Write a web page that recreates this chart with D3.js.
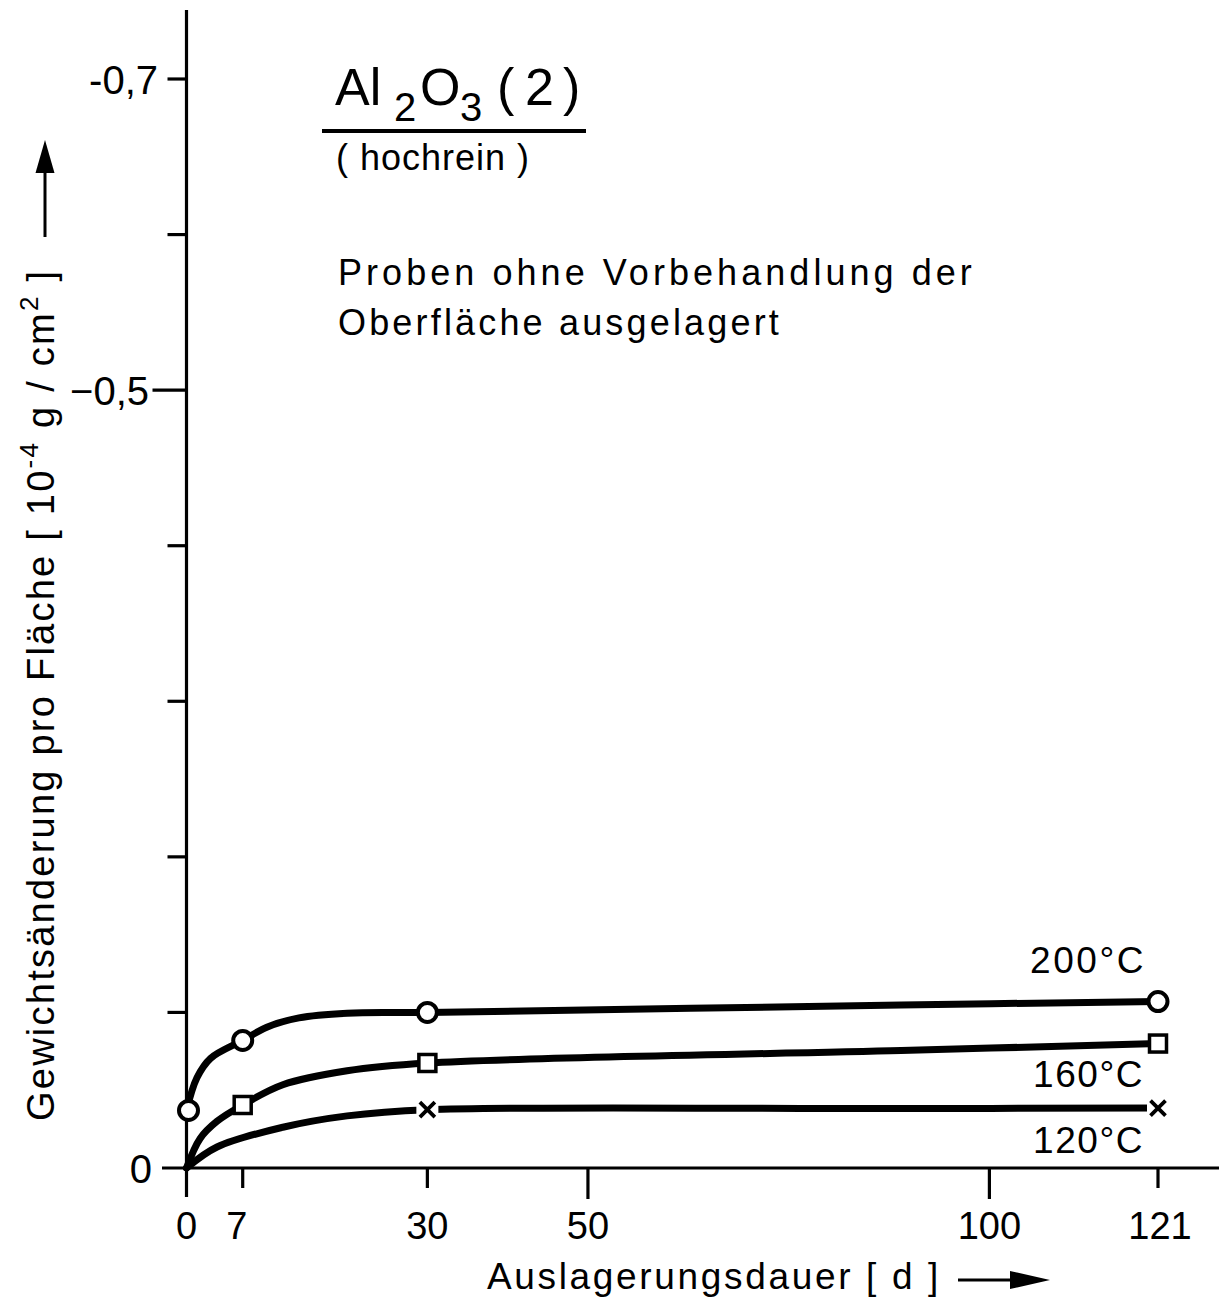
<!DOCTYPE html>
<html>
<head>
<meta charset="utf-8">
<script src="https://cdn.jsdelivr.net/npm/d3@7"></script>
<style>
  html, body { margin: 0; padding: 0; background: #fff; }
  svg { display: block; }
  text { font-family: "Liberation Sans", "DejaVu Sans", sans-serif; fill: #000; }
</style>
</head>
<body>
<svg id="chart" width="1219" height="1300"></svg>
<script>
// ---------- data ----------
const xTickValues = [0, 7, 30, 50, 100, 121];
const xTickLabels = ["0", "7", "30", "50", "100", "121"];
const xMajorTicks = [0, 50, 100];
const yTickValues = [0, -0.1, -0.2, -0.3, -0.4, -0.5, -0.6, -0.7];
const yLabelValues = [0, -0.5, -0.7];
const yLabelTexts = ["0", "\u22120,5", "-0,7"];
const yMajorTicks = [0, -0.5];

// measured points
const days200 = [0, 7, 30, 121];
const vals200 = [-0.037, -0.082, -0.100, -0.107];
const days160 = [7, 30, 121];
const vals160 = [-0.0405, -0.0675, -0.080];
const days120 = [30, 121];
const vals120 = [-0.0375, -0.0385];

// drawn (fitted) curves
const curveDays200 = [0, 1.3, 3, 7, 10, 14, 20, 30, 89, 121];
const curveVals200 = [-0.037, -0.058, -0.0705, -0.082, -0.0905, -0.0965, -0.0995, -0.100, -0.1048, -0.107];
const curveDays160 = [0, 1.7, 3.8, 7, 12, 20, 30, 89, 121];
const curveVals160 = [0, -0.019, -0.030, -0.0405, -0.0535, -0.0625, -0.0675, -0.0755, -0.080];
const curveDays120 = [0, 3.8, 12, 20, 30, 89, 121];
const curveVals120 = [0, -0.0135, -0.0262, -0.0335, -0.0375, -0.0382, -0.0385];

const seriesLabels = ["200\u00B0C", "160\u00B0C", "120\u00B0C"];

// ---------- drawing ----------
const svg = d3.select("#chart");
const x = d3.scaleLinear().domain([0, 121]).range([186.5, 1158]);
const y = d3.scaleLinear().domain([0, -0.7]).range([1168, 79]);
const x0 = x(0), y0 = y(0);

function fit(sel, target) {
  const node = sel.node();
  const w = node.getBBox().width;
  const n = node.textContent.length;
  sel.attr("letter-spacing", ((target - w) / n).toFixed(2));
}

// axes
svg.append("line").attr("x1", x0).attr("x2", x0).attr("y1", 10).attr("y2", y0 + 29)
  .attr("stroke", "#000").attr("stroke-width", 3.2);
svg.append("line").attr("x1", 162).attr("x2", 1219).attr("y1", y0).attr("y2", y0)
  .attr("stroke", "#000").attr("stroke-width", 3.2);

// y ticks
svg.selectAll(".ytick").data(yTickValues.filter(v => v !== 0)).join("line")
  .attr("class", "ytick")
  .attr("x1", d => yMajorTicks.includes(d) ? x0 - 34 : x0 - 19).attr("x2", x0)
  .attr("y1", d => y(d)).attr("y2", d => y(d))
  .attr("stroke", "#000").attr("stroke-width", 3.2);

// x ticks
svg.selectAll(".xtick").data(xTickValues.filter(v => v !== 0)).join("line")
  .attr("class", "xtick")
  .attr("x1", d => x(d)).attr("x2", d => x(d))
  .attr("y1", y0).attr("y2", d => xMajorTicks.includes(d) ? y0 + 31 : y0 + 20)
  .attr("stroke", "#000").attr("stroke-width", 3.2);

// y tick labels
svg.selectAll(".ylab").data(yLabelValues).join("text")
  .attr("class", "ylab")
  .attr("x", d => d === 0 ? 152 : (d === -0.5 ? 149 : 158))
  .attr("y", d => y(d) + 15)
  .attr("text-anchor", "end")
  .attr("font-size", 40)
  .text((d, i) => yLabelTexts[i]);

// x tick labels
svg.selectAll(".xlab").data(xTickValues).join("text")
  .attr("class", "xlab")
  .attr("x", d => x(d) - (d === 7 ? 6 : 0) + (d === 121 ? 2 : 0))
  .attr("y", 1239)
  .attr("text-anchor", "middle")
  .attr("font-size", 38)
  .text((d, i) => xTickLabels[i]);

// curves
const line = d3.line().x(d => x(d[0])).y(d => y(d[1])).curve(d3.curveCatmullRom.alpha(0.5));
const curves = [
  d3.zip(curveDays200, curveVals200),
  d3.zip(curveDays160, curveVals160),
  d3.zip(curveDays120, curveVals120)
];
svg.selectAll(".curve").data(curves).join("path")
  .attr("class", "curve")
  .attr("d", line)
  .attr("fill", "none").attr("stroke", "#000").attr("stroke-width", 7)
  .attr("stroke-linecap", "round");

// markers: circles (200 °C)
svg.selectAll(".m200").data(d3.zip(days200, vals200)).join("circle")
  .attr("class", "m200")
  .attr("cx", d => x(d[0]) + (d[0] === 0 ? 2 : 0)).attr("cy", d => y(d[1]))
  .attr("r", 9.5)
  .attr("fill", "#fff").attr("stroke", "#000").attr("stroke-width", 4);

// squares (160 °C)
svg.selectAll(".m160").data(d3.zip(days160, vals160)).join("rect")
  .attr("class", "m160")
  .attr("x", d => x(d[0]) - 8.5).attr("y", d => y(d[1]) - 8.5)
  .attr("width", 17).attr("height", 17)
  .attr("fill", "#fff").attr("stroke", "#000").attr("stroke-width", 3.5);

// crosses (120 °C)
const cross = svg.selectAll(".m120").data(d3.zip(days120, vals120)).join("g")
  .attr("class", "m120")
  .attr("transform", d => `translate(${x(d[0])},${y(d[1])})`);
cross.append("rect").attr("x", -11).attr("y", -10).attr("width", 22).attr("height", 20)
  .attr("fill", "#fff");
cross.append("path").attr("d", "M-7.5,-7.5L7.5,7.5M-7.5,7.5L7.5,-7.5")
  .attr("stroke", "#000").attr("stroke-width", 3.8).attr("fill", "none");

// series labels
const labPos = [[1030, 973], [1033, 1087], [1033, 1153]];
seriesLabels.forEach((t, i) => {
  const s = svg.append("text").attr("x", labPos[i][0]).attr("y", labPos[i][1])
    .attr("font-size", 37).text(t);
  fit(s, i === 0 ? 116 : 111);
});

// title
const title = svg.append("text").attr("y", 105).attr("font-size", 52);
title.append("tspan").attr("x", 335).text("Al");
title.append("tspan").attr("x", 394).attr("y", 121).attr("font-size", 40).text("2");
title.append("tspan").attr("x", 420).attr("y", 105).text("O");
title.append("tspan").attr("x", 460).attr("y", 121).attr("font-size", 40).text("3");
title.append("tspan").attr("x", 497).attr("y", 105).text("(");
title.append("tspan").attr("x", 525).attr("y", 105).text("2");
title.append("tspan").attr("x", 563).attr("y", 105).text(")");
svg.append("line").attr("x1", 322).attr("x2", 586).attr("y1", 131).attr("y2", 131)
  .attr("stroke", "#000").attr("stroke-width", 4);
const sub = svg.append("text").attr("x", 336).attr("y", 170).attr("font-size", 36).text("( hochrein )");
fit(sub, 194);

// note
const n1 = svg.append("text").attr("x", 338).attr("y", 285).attr("font-size", 36)
  .text("Proben ohne Vorbehandlung der");
fit(n1, 638);
const n2 = svg.append("text").attr("x", 338).attr("y", 335).attr("font-size", 36)
  .text("Oberfl\u00E4che ausgelagert");
fit(n2, 444);

// x axis title + arrow
const xt = svg.append("text").attr("x", 487).attr("y", 1289).attr("font-size", 37)
  .text("Auslagerungsdauer [ d ]");
fit(xt, 454);
svg.append("line").attr("x1", 958).attr("x2", 1015).attr("y1", 1280).attr("y2", 1280)
  .attr("stroke", "#000").attr("stroke-width", 3);
svg.append("path").attr("d", "M1010,1271L1050,1280L1010,1289Z").attr("fill", "#000");

// y axis title + arrow
const yt = svg.append("text")
  .attr("transform", "translate(54,1121) rotate(-90)")
  .attr("font-size", 38);
yt.append("tspan").text("Gewichts\u00E4nderung pro Fl\u00E4che [ 10");
yt.append("tspan").attr("dy", -16).attr("font-size", 26).text("-4");
yt.append("tspan").attr("dy", 16).text(" g / cm");
yt.append("tspan").attr("dy", -16).attr("font-size", 26).text("2");
yt.append("tspan").attr("dy", 16).text(" ]");
fit(yt, 852);
svg.append("line").attr("x1", 45).attr("x2", 45).attr("y1", 237).attr("y2", 168)
  .attr("stroke", "#000").attr("stroke-width", 3);
svg.append("path").attr("d", "M35.5,173L45,140L54.5,173Z").attr("fill", "#000");
</script>
</body>
</html>
